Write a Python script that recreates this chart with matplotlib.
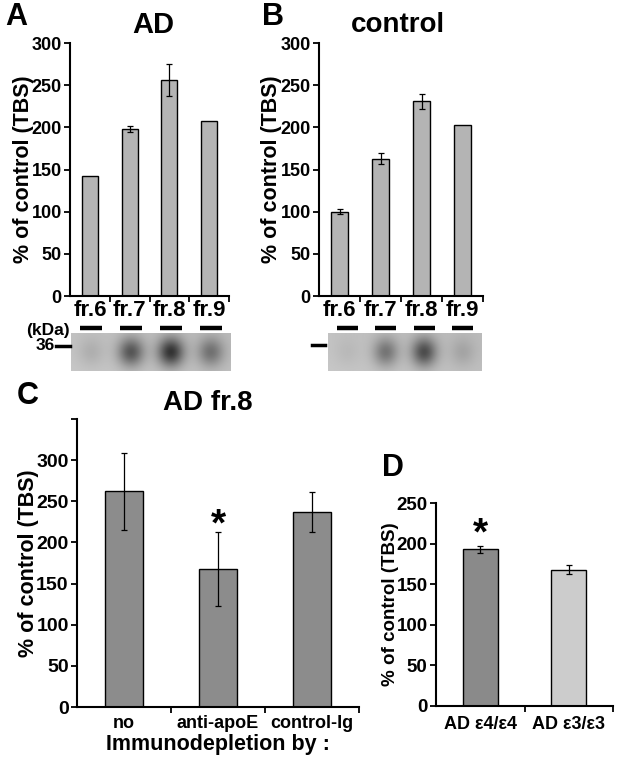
import numpy as np
import matplotlib
matplotlib.use("Agg")
import matplotlib.pyplot as plt
from matplotlib.transforms import blended_transform_factory

plt.rcParams['font.family'] = ['Liberation Sans', 'DejaVu Sans']
plt.rcParams['font.weight'] = 'bold'

# ---------------- data ----------------
fractions = ["fr.6", "fr.7", "fr.8", "fr.9"]
ad_values = [142, 198, 256, 208]
ad_errors = [0, 3, 19, 0]
ctrl_values = [100, 163, 231, 203]
ctrl_errors = [3, 6, 9, 0]
ad_band = [0.08, 0.42, 0.55, 0.3]
ctrl_band = [0.04, 0.3, 0.45, 0.1]

depl_labels = ["no", "anti-apoE", "control-Ig"]
depl_values = [262, 168, 237]
depl_errors = [47, 45, 24]

geno_labels = ["AD \u03b54/\u03b54", "AD \u03b53/\u03b53"]
geno_values = [193, 168]
geno_errors = [4, 6]

W, H = 624, 768
fig = plt.figure(figsize=(W / 100, H / 100), dpi=100)


def rect(x0, y0, x1, y1):
    return [x0 / W, 1 - y1 / H, (x1 - x0) / W, (y1 - y0) / H]


def ftext(x, y, s, **kw):
    fig.text(x / W, 1 - y / H, s, **kw)


def style(ax, tick_fs):
    for s in ("top", "right"):
        ax.spines[s].set_visible(False)
    ax.spines["left"].set_linewidth(1.5)
    ax.spines["bottom"].set_linewidth(1.5)
    ax.tick_params(axis="y", direction="out", length=4, width=1.3, labelsize=tick_fs, pad=2)
    for lab in ax.get_yticklabels():
        lab.set_fontweight("bold")


def bar_panel(ax, labels, vals, errs, colors, ylim, yticks, tick_fs, xt_fs, label_ticks=None):
    x = np.arange(len(labels))
    ax.bar(x, vals, width=0.4, color=colors, edgecolor="black", linewidth=1.0, zorder=2)
    ex = [i for i, e in enumerate(errs) if e > 0]
    ax.errorbar([x[i] for i in ex], [vals[i] for i in ex], yerr=[errs[i] for i in ex],
                fmt="none", ecolor="black", elinewidth=0.9, capsize=2.5, capthick=0.9, zorder=3)
    ax.set_xlim(-0.5, len(labels) - 0.5)
    ax.set_ylim(*ylim)
    ax.set_yticks(yticks)
    if label_ticks is not None:
        ax.set_yticklabels(label_ticks)
    ax.set_xticks(x)
    ax.set_xticklabels(labels, fontsize=xt_fs, fontweight="bold")
    ax.tick_params(axis="x", which="major", length=0, pad=3)
    ax.set_xticks(np.arange(len(labels)) + 0.5, minor=True)
    ax.tick_params(axis="x", which="minor", direction="out", length=4, width=1.3)
    style(ax, tick_fs)


# ---------------- panel A ----------------
axA = fig.add_axes(rect(70, 43, 229, 296))
bar_panel(axA, fractions, ad_values, ad_errors, "#b4b4b4", (0, 300), range(0, 301, 50), 13, 16)
axA.set_ylabel("% of control (TBS)", fontsize=15.5, fontweight="bold", labelpad=-2)

# ---------------- panel B ----------------
axB = fig.add_axes(rect(319, 43, 483, 296))
bar_panel(axB, fractions, ctrl_values, ctrl_errors, "#b4b4b4", (0, 300), range(0, 301, 50), 13, 16)
axB.set_ylabel("% of control (TBS)", fontsize=15.5, fontweight="bold", labelpad=-1.5)


# ---------------- blots ----------------
def blot(ax, bands):
    nx, ny = 320, 76
    xs = np.linspace(-0.5, 3.5, nx)
    ys = np.linspace(0, 1, ny)
    X, Y = np.meshgrid(xs, ys)
    img = 0.78 - 0.03 * (X + 0.5) / 4 - 0.02 * (1 - Y)
    for i, b in enumerate(bands):
        img -= b * np.exp(-((X - i) ** 2) / (2 * 0.23 ** 2) - ((Y - 0.5) ** 2) / (2 * 0.27 ** 2))
    ax.imshow(img, cmap="gray", vmin=0, vmax=1, extent=(-0.5, 3.5, 0, 1), aspect="auto",
              interpolation="bilinear")
    ax.set_xlim(-0.5, 3.5)
    ax.set_ylim(0, 1)
    ax.axis("off")
    tr = blended_transform_factory(ax.transData, ax.transAxes)
    for i in range(len(bands)):
        ax.plot([i - 0.27, i + 0.27], [1.13, 1.13], color="black", lw=3.2, transform=tr,
                clip_on=False, solid_capstyle="butt")


bA = fig.add_axes(rect(71, 333, 231, 371))
blot(bA, ad_band)
bB = fig.add_axes(rect(328, 333, 482, 371))
blot(bB, ctrl_band)

ftext(70, 330, "(kDa)", fontsize=12.5, fontweight="bold", ha="right", va="center")
ftext(55, 346, "36", fontsize=12.5, fontweight="bold", ha="right", va="center")
fig.add_artist(plt.Line2D([56 / W, 70 / W], [1 - 346 / H] * 2, color="black", lw=2.5,
                          transform=fig.transFigure))
fig.add_artist(plt.Line2D([312 / W, 325 / W], [1 - 345 / H] * 2, color="black", lw=2.5,
                          transform=fig.transFigure))

# ---------------- panel C ----------------
axC = fig.add_axes(rect(77, 419, 359, 707))
bar_panel(axC, depl_labels, depl_values, depl_errors, "#8c8c8c", (0, 350), range(0, 351, 50),
          14, 13, label_ticks=[str(v) for v in range(0, 301, 50)] + [""])
axC.set_ylabel("% of control (TBS)", fontsize=15.5, fontweight="bold", labelpad=-2)
axC.set_xlabel("Immunodepletion by :", fontsize=15.5, fontweight="bold", labelpad=1)
axC.tick_params(axis="x", which="major", pad=6)
axC.text(1, depl_values[1] + depl_errors[1] + 8, "*", fontsize=28, fontweight="bold",
         ha="center", va="center")

# ---------------- panel D ----------------
axD = fig.add_axes(rect(436, 503, 613, 706))
bar_panel(axD, geno_labels, geno_values, geno_errors, ["#8a8a8a", "#cccccc"], (0, 250),
          range(0, 251, 50), 13.5, 13)
axD.set_ylabel("% of control (TBS)", fontsize=13.5, fontweight="bold", labelpad=-2)
axD.tick_params(axis="x", which="major", pad=7)
axD.text(0, geno_values[0] + geno_errors[0] + 14, "*", fontsize=28, fontweight="bold",
         ha="center", va="center")

# ---------------- titles & panel letters ----------------
ftext(153, 25, "AD", fontsize=21, fontweight="bold", ha="center", va="center")
ftext(398, 25, "control", fontsize=20, fontweight="bold", ha="center", va="center")
ftext(208, 403, "AD fr.8", fontsize=20, fontweight="bold", ha="center", va="center")
ftext(5, 17, "A", fontsize=22, fontweight="bold", ha="left", va="center")
ftext(262, 17, "B", fontsize=22, fontweight="bold", ha="left", va="center")
ftext(17, 396, "C", fontsize=22, fontweight="bold", ha="left", va="center")
ftext(382, 468, "D", fontsize=22, fontweight="bold", ha="left", va="center")

fig.savefig("out.png", dpi=100)
